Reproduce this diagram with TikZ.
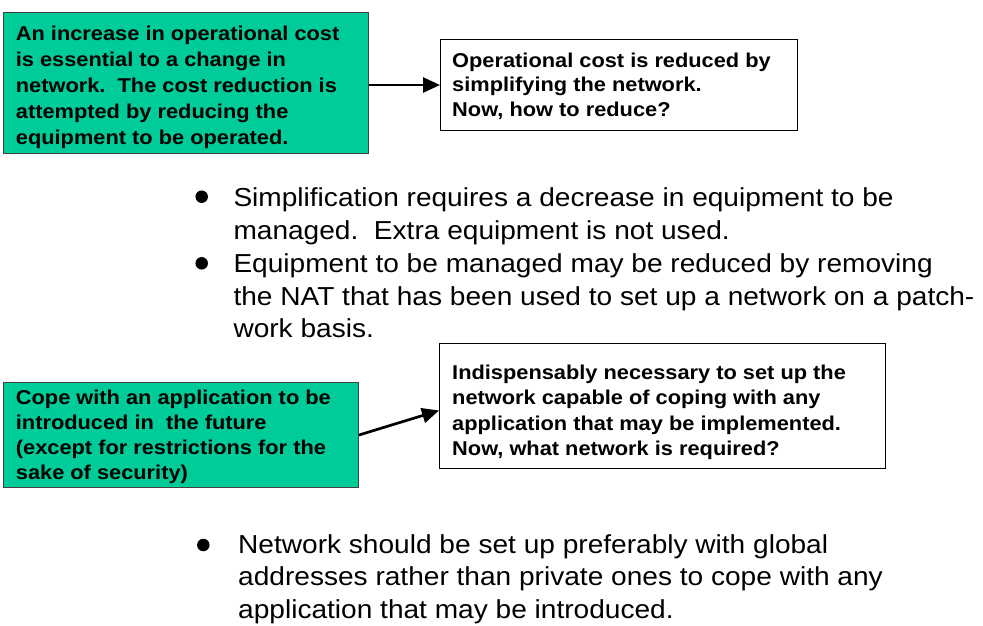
\documentclass[tikz,border=0pt]{standalone}
\usepackage{fontspec}
\setmainfont{Liberation Sans}[FakeStretch=1.09]
\newfontfamily\bulletfont{Liberation Sans}[FakeStretch=1.08]
\usetikzlibrary{arrows.meta}
\definecolor{boxgreen}{RGB}{0,204,153}
\begin{document}
\begin{tikzpicture}[x=1pt,y=-1pt,
  greenbox/.style={draw=black!75,line width=1pt,fill=boxgreen,anchor=north west,inner sep=0pt},
  whitebox/.style={draw=black,line width=1pt,fill=white,anchor=north west,inner sep=0pt},
  boxtext/.style={anchor=base west,align=left,inner sep=0pt,font=\fontsize{20}{26}\selectfont\bfseries},
  bullettext/.style={anchor=base west,align=left,inner sep=0pt,font=\bulletfont\fontsize{26}{32.6}\selectfont},
  dot/.style={circle,fill=black,inner sep=0pt,minimum size=12.5pt},
  arr/.style={line width=2.7pt,-{Triangle[length=17pt,width=15pt]}}]
\useasboundingbox (0,0) rectangle (983,625);
% top row (text nodes are placed by the baseline of their last line)
\node[greenbox,minimum width=365pt,minimum height=141pt] (g1) at (3,12) {};
\node[boxtext] (g1t) at (15.7,144.7) {An increase in operational cost\\is essential to a change in\\network.\ \ The cost reduction is\\attempted by reducing the\\equipment to be operated.};
\node[whitebox,minimum width=357pt,minimum height=91pt] (w1) at (440,39) {};
\node[boxtext,font=\fontsize{20}{24.5}\selectfont\bfseries] (w1t) at (452,116) {Operational cost is reduced by\\simplifying the network.\\Now, how to reduce?};
\draw[arr] (g1.east |- w1.west) -- (w1.west);
% bullets 1-2
\node[dot] (b1) at (201.7,196.7) {};
\node[bullettext] (b1t) at (233.3,239.3) {Simplification requires a decrease in equipment to be\\managed.\ \ Extra equipment is not used.};
\node[dot] (b2) at (201.7,263.3) {};
\node[bullettext] (b2t) at (233.3,337.9) {Equipment to be managed may be reduced by removing\\the NAT that has been used to set up a network on a patch-\\work basis.};
% middle row
\node[greenbox,minimum width=355pt,minimum height=105pt] (g2) at (3,382) {};
\node[boxtext,font=\fontsize{20}{25}\selectfont\bfseries] (g2t) at (15.7,479.4) {Cope with an application to be\\introduced in\ \ the future\\(except for restrictions for the\\sake of security)};
\node[whitebox,minimum width=446pt,minimum height=125pt] (w2) at (439,343) {};
\node[boxtext,font=\fontsize{20}{25.5}\selectfont\bfseries] (w2t) at (452,455.5) {Indispensably necessary to set up the\\network capable of coping with any\\application that may be implemented.\\Now, what network is required?};
\draw[arr] (g2.east) -- ([yshift=-4.5pt]w2.west);
% bullet 3
\node[dot] (b3) at (203.3,545) {};
\node[bullettext] (b3t) at (238,618.2) {Network should be set up preferably with global\\addresses rather than private ones to cope with any\\application that may be introduced.};
\end{tikzpicture}
\end{document}
